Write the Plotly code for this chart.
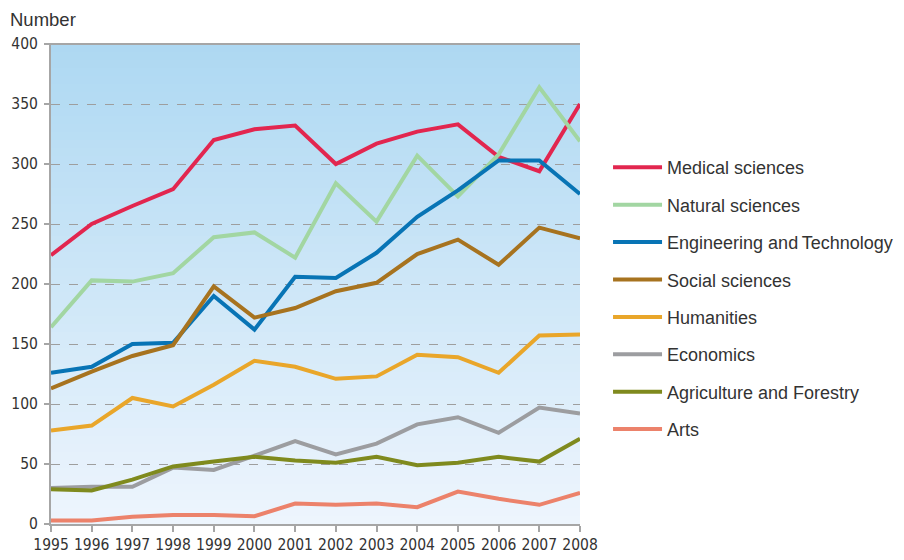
import plotly.graph_objects as go

years = list(range(1995, 2009))

medical = [224, 250, 265, 279, 320, 329, 332, 300, 317, 327, 333, 306, 294, 350]
natural = [164, 203, 202, 209, 239, 243, 222, 284, 252, 307, 273, 308, 364, 319]
engineering = [126, 131, 150, 151, 190, 162, 206, 205, 226, 256, 278, 303, 303, 275]
social = [113, 127, 140, 149, 198, 172, 180, 194, 201, 225, 237, 216, 247, 238]
humanities = [78, 82, 105, 98, 116, 136, 131, 121, 123, 141, 139, 126, 157, 158]
economics = [30, 31, 31, 47, 45, 57, 69, 58, 67, 83, 89, 76, 97, 92]
agriculture = [29, 28, 37, 48, 52, 56, 53, 51, 56, 49, 51, 56, 52, 71]
arts = [3, 3, 6, 7.5, 7.5, 6.5, 17, 16, 17, 14, 27, 21, 16, 26]

series_names = ["Medical sciences", "Natural sciences", "Engineering and\u2009Technology",
                "Social sciences", "Humanities", "Economics",
                "Agriculture and Forestry", "Arts"]
series_values = [medical, natural, engineering, social, humanities, economics, agriculture, arts]
colors = ["#E2264F", "#A2D6A2", "#0874B5", "#A7731F", "#E9A62A", "#9C9DA0", "#7F8A1E", "#EC826B"]

y_ticks = [0, 50, 100, 150, 200, 250, 300, 350, 400]

fig = go.Figure()
for i in range(len(series_names)):
    fig.add_trace(go.Scatter(
        x=years, y=series_values[i], mode="lines", name=series_names[i],
        line=dict(color=colors[i], width=4), legendgroup=f"g{i}",
        legendrank=i + 1,
    ))

# gradient background
shapes = []
n = 60
top = (0xAD, 0xD8, 0xF2)
bot = (0xEE, 0xF5, 0xFD)
for k in range(n):
    t = (k + 0.5) / n
    c = tuple(int(round(bot[j] + (top[j] - bot[j]) * t)) for j in range(3))
    shapes.append(dict(type="rect", xref="x domain", yref="y domain",
                       x0=0, x1=1, y0=k / n, y1=(k + 1) / n + 0.002,
                       fillcolor="rgb(%d,%d,%d)" % c, line=dict(width=0), layer="below"))
shapes.append(dict(type="line", xref="paper", yref="y domain", x0=-0.0095, x1=1, y0=1, y1=1,
                   line=dict(color="#A6A6A6", width=2)))
fig.update_layout(shapes=shapes)

tick_font = dict(family="DejaVu Sans Condensed, Liberation Sans, sans-serif", size=15.5, color="#333333")

# page body has an 8px margin, so the figure is sized/margined to compensate
fig.update_layout(
    width=896, height=552,
    margin=dict(l=43, r=324, t=36, b=36, autoexpand=False),
    paper_bgcolor="white", plot_bgcolor="rgba(0,0,0,0)",
    showlegend=True,
    legend=dict(x=1.053, xanchor="left", y=0.781, yanchor="top",
                font=dict(family="Liberation Sans, Arial, sans-serif", size=18, color="#333333"),
                tracegroupgap=11, itemwidth=49, bgcolor="rgba(0,0,0,0)"),
    xaxis=dict(range=[1995, 2008], tickmode="array", tickvals=years, ticktext=[str(y) for y in years],
               showgrid=False, showline=True, linecolor="#A6A6A6", linewidth=1.5,
               ticks="outside", ticklen=6, tickcolor="#A6A6A6", tickwidth=1.5,
               tickfont=tick_font, tickangle=0, zeroline=False, automargin=False),
    yaxis=dict(range=[0, 400], tickmode="array", tickvals=y_ticks,
               showgrid=True, gridcolor="#9E9E9E", griddash="dash", gridwidth=1,
               showline=True, linecolor="#A6A6A6", linewidth=2,
               ticks="outside", ticklen=5, tickcolor="#A6A6A6", tickwidth=1.5,
               tickfont=tick_font, zeroline=False, ticklabelstandoff=3, automargin=False),
    annotations=[dict(text="Number", xref="paper", yref="paper", x=-0.08, y=1.05,
                      xanchor="left", yanchor="middle", showarrow=False, borderpad=0,
                      font=dict(family="Liberation Sans, Arial, sans-serif", size=18.5, color="#333333"))],
)

fig.write_html("out.html")
